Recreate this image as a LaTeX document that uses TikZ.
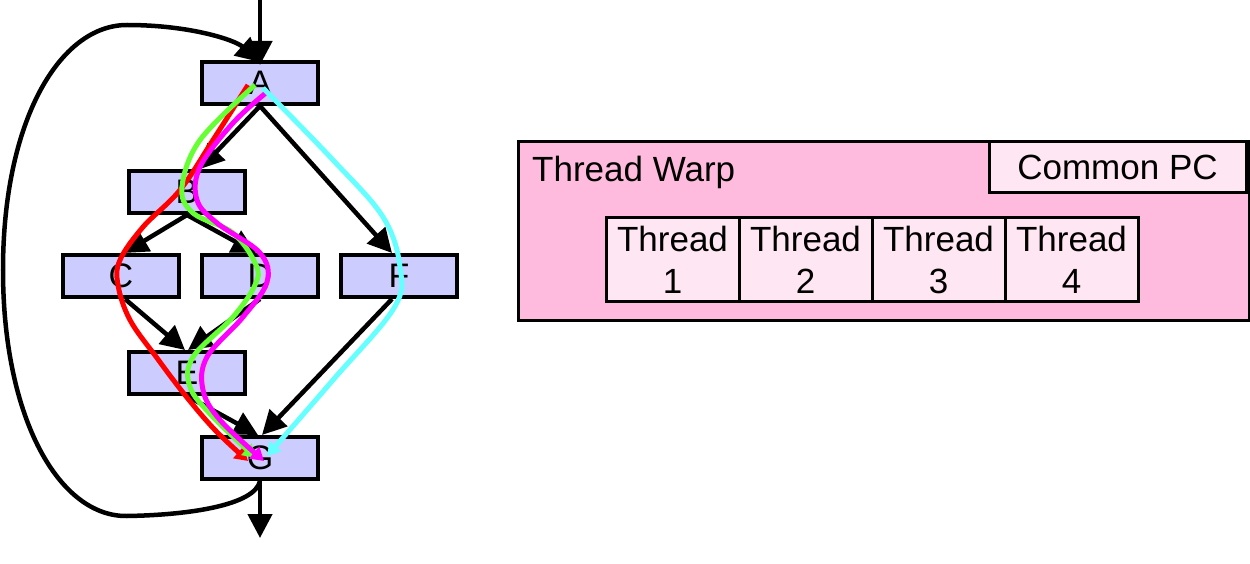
\documentclass[tikz,border=0pt]{standalone}
\usepackage{fontspec}
\setmainfont{Liberation Sans}
\usetikzlibrary{arrows.meta}
\definecolor{nodefill}{HTML}{CCCCFF}
\definecolor{warpfill}{HTML}{FFBBDD}
\definecolor{thrfill}{HTML}{FFE6F2}
\definecolor{pred}{HTML}{FF0000}
\definecolor{pgreen}{HTML}{66FF33}
\definecolor{pcyan}{HTML}{66FFFF}
\definecolor{pmag}{HTML}{FF00FF}
\begin{document}
\begin{tikzpicture}[x=1pt,y=-1pt,
  blk/.style={draw=black,line width=4pt,fill=nodefill,minimum width=116pt,minimum height=42pt,inner sep=0pt,font=\fontsize{34}{40}\selectfont},
  edge/.style={line width=4.5pt,-{Triangle[length=24pt,width=24pt]}},
  thr/.style={line width=5pt,-{Triangle[length=13pt,width=15pt]}},
  box/.style={draw=black,line width=3pt,inner sep=0pt},
  lbl/.style={font=\fontsize{35}{42}\selectfont,inner sep=0pt}]
\useasboundingbox (0,0) rectangle (1250,564);
% graph nodes
\node[blk] (A) at (260,83) {A};
\node[blk] (B) at (187,192) {B};
\node[blk] (C) at (121,276) {C};
\node[blk] (D) at (260,276) {D};
\node[blk] (F) at (399,276) {F};
\node[blk] (E) at (187,373) {E};
\node[blk] (G) at (260,458) {G};
\coordinate (in) at (260,0);
\coordinate (out) at (260,538);
% edges
\draw[edge] (in) -- ([yshift=-5pt]A.north);
\draw[edge] (G.south) -- (out);
\draw[edge] (G.south) .. controls (255,505) and (190,515) .. (127,516)
  .. controls (60,517) and (3,420) .. (3,270)
  .. controls (3,120) and (60,25) .. (127,25)
  .. controls (190,25) and (235,40) .. ([yshift=-2pt]A.north);
\draw[edge] (A.south) -- ([xshift=13pt]B.north);
\draw[edge] (A.south) -- ([xshift=-7pt]F.north);
\draw[edge] (B.south) -- ([xshift=3pt]C.north);
\draw[edge] (B.south) -- ([xshift=-4pt]D.north);
\draw[edge] ([xshift=4pt]C.south) -- ([xshift=-2pt]E.north);
\draw[edge] (D.south) -- ([xshift=1pt]E.north);
\draw[edge] (E.south) -- ([xshift=-2pt]G.north);
\draw[edge] ([xshift=-7pt]F.south) -- ([xshift=2pt]G.north);
% thread paths
\draw[thr,pred] plot[smooth,tension=0.6] coordinates {(248,85) (213,140) (180,190) (143,227) (120,260) (118,285) (130,320) (157,358) (185,395) (215,430) (248,461)};
\draw[thr,pgreen] plot[smooth,tension=0.6] coordinates {(255,85) (200,140) (182,187) (193,213) (233,233) (256,265) (255,285) (233,317) (193,357) (190,387) (213,417) (256,458)};
\draw[thr,pmag] plot[smooth,tension=0.6] coordinates {(267,92) (233,123) (200,167) (197,200) (217,223) (260,253) (267,282) (243,317) (207,357) (203,390) (220,420) (264,461)};
\draw[thr,pcyan] plot[smooth,tension=0.6] coordinates {(263,88) (333,160) (383,217) (400,267) (394,308) (333,380) (267,456)};
% warp
\node[box,fill=warpfill,minimum width=731pt,minimum height=178pt,anchor=north west] (warp) at (516.5,140.5) {};
\node[lbl,anchor=west] (tw) at (532,172) {Thread Warp};
\node[box,fill=thrfill,minimum width=257pt,minimum height=51pt,anchor=north east] (pc) at (1247.5,140.5) {};
\node[lbl] at (pc.center) {Common PC};
\foreach \i/\x in {1/672.5,2/805.5,3/938.5,4/1071.5}{
  \node[box,fill=thrfill,minimum width=133pt,minimum height=83pt] (t\i) at (\x,259.5) {};
  \node[lbl,align=center] at (t\i.center) {Thread\\\i};
}
\end{tikzpicture}
\end{document}
